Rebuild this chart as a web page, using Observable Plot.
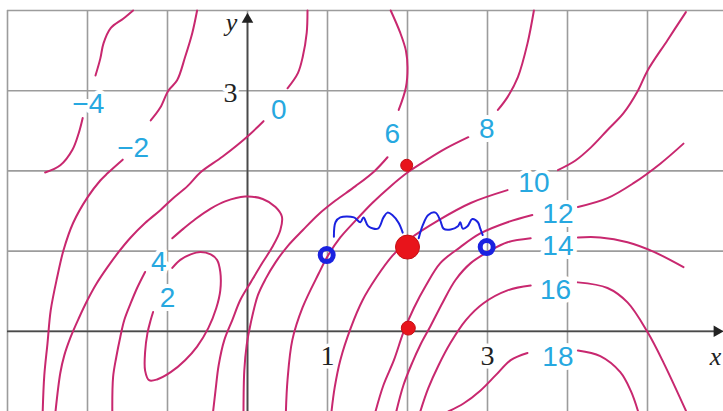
<!DOCTYPE html>
<html>
<head>
<meta charset="utf-8">
<script src="https://cdn.jsdelivr.net/npm/d3@7"></script>
<script src="https://cdn.jsdelivr.net/npm/@observablehq/plot@0.6"></script>
<style>
  html, body { margin: 0; padding: 0; background: #ffffff; }
  #chart svg { display: block; background: #ffffff; }
</style>
</head>
<body>
<div id="chart"></div>
<script>
// ---- contour segments (x, y in data units) ----
const cNeg4a = [[-1.43,4.00],[-1.55,3.90],[-1.71,3.78],[-1.80,3.59],[-1.84,3.40],[-1.90,3.19]];
const cNeg4b = [[-2.06,2.66],[-2.11,2.47],[-2.19,2.26],[-2.34,2.07],[-2.53,1.98]];
const cNeg2a = [[-0.63,4.00],[-0.69,3.72],[-0.78,3.42],[-0.88,3.13],[-0.99,3.00],[-1.09,2.79],[-1.21,2.63]];
const cNeg2b = [[-1.56,2.14],[-1.75,1.97],[-1.84,1.88],[-2.00,1.67],[-2.18,1.35],[-2.30,1.01],[-2.38,0.67],[-2.46,0.26],[-2.50,-0.15],[-2.54,-0.55],[-2.56,-1.00]];
const c0a = [[0.75,4.00],[0.74,3.72],[0.69,3.42],[0.63,3.22],[0.50,3.03]];
const c0b = [[0.20,2.62],[0.00,2.43],[-0.31,2.18],[-0.59,1.98],[-0.75,1.81],[-0.94,1.65],[-1.09,1.51],[-1.28,1.35],[-1.46,1.17],[-1.61,0.99],[-1.75,0.80],[-1.89,0.59],[-2.00,0.39],[-2.11,0.16],[-2.21,-0.07],[-2.29,-0.30],[-2.34,-0.52],[-2.40,-1.00]];
const c2 = [[-0.94,0.79],[-0.84,0.89],[-0.71,0.96],[-0.59,0.99],[-0.46,0.96],[-0.38,0.89],[-0.34,0.74],[-0.34,0.51],[-0.39,0.29],[-0.49,0.04],[-0.63,-0.19],[-0.78,-0.36],[-0.96,-0.51],[-1.13,-0.60],[-1.23,-0.61],[-1.28,-0.49],[-1.28,-0.26],[-1.25,-0.02],[-1.21,0.14],[-1.18,0.24]];
const c4a = [[-0.94,1.16],[-0.80,1.28],[-0.65,1.40],[-0.46,1.53],[-0.28,1.62],[-0.03,1.68],[0.19,1.65],[0.35,1.55],[0.43,1.43],[0.41,1.26],[0.31,1.05],[0.19,0.86],[0.04,0.61],[-0.09,0.39],[-0.19,0.14],[-0.29,-0.11],[-0.36,-0.42],[-0.40,-0.74],[-0.43,-1.00]];
const c4b = [[-1.28,0.74],[-1.38,0.54],[-1.46,0.35],[-1.54,0.14],[-1.59,-0.07],[-1.64,-0.32],[-1.68,-0.57],[-1.69,-1.00]];
const c6a = [[1.79,4.00],[1.91,3.72],[1.98,3.50],[2.00,3.29],[1.98,3.04],[1.89,2.76]];
const c6b = [[1.75,2.17],[1.59,2.00],[1.35,1.81],[1.10,1.63],[0.89,1.46],[0.69,1.26],[0.50,1.06],[0.35,0.86],[0.23,0.66],[0.13,0.45],[0.04,0.10],[-0.01,-0.17],[-0.04,-0.49],[-0.05,-1.00]];
const c8a = [[3.58,4.00],[3.50,3.59],[3.38,3.17],[3.25,2.92],[3.13,2.76]];
const c8b = [[2.76,2.42],[2.48,2.28],[2.23,2.13],[2.00,1.98],[1.79,1.81],[1.56,1.60],[1.35,1.38],[1.16,1.17],[1.01,0.95],[0.89,0.72],[0.69,0.30],[0.56,-0.11],[0.50,-0.61],[0.48,-1.00]];
const c10a = [[3.88,2.01],[4.10,2.13],[4.29,2.29],[4.50,2.51],[4.70,2.72],[4.88,3.00],[5.00,3.25],[5.25,3.63],[5.48,3.98]];
const c10b = [[3.25,1.76],[2.79,1.60],[2.38,1.38],[2.04,1.16],[1.81,0.94],[1.61,0.67],[1.44,0.39],[1.29,0.04],[1.16,-0.36],[1.09,-0.70],[1.05,-1.00]];
const c12a = [[4.13,1.55],[4.50,1.66],[4.83,1.85],[5.16,2.09],[5.45,2.34]];
const c12b = [[3.56,1.45],[3.25,1.36],[2.91,1.22],[2.66,1.05],[2.41,0.85],[2.23,0.57],[2.08,0.29],[1.95,-0.01],[1.83,-0.36],[1.70,-0.67],[1.60,-1.00]];
const c14a = [[4.13,1.17],[4.41,1.17],[4.75,1.11],[5.08,0.99],[5.45,0.80]];
const c14b = [[3.54,1.16],[3.25,1.11],[3.04,1.01],[2.79,0.85],[2.60,0.64],[2.44,0.36],[2.29,0.07],[2.16,-0.17],[2.06,-0.39],[1.95,-0.67],[1.86,-1.00]];
const c16a = [[4.13,0.61],[4.50,0.54],[4.75,0.36],[5.00,-0.01],[5.20,-0.39],[5.48,-0.99]];
const c16b = [[3.54,0.57],[3.25,0.51],[2.95,0.35],[2.73,0.14],[2.54,-0.14],[2.39,-0.42],[2.26,-0.71],[2.16,-1.00]];
const c18a = [[4.13,-0.24],[4.41,-0.31],[4.66,-0.51],[4.79,-0.74],[4.88,-0.99]];
const c18b = [[3.50,-0.27],[3.29,-0.36],[3.10,-0.55],[2.91,-0.74],[2.70,-0.90],[2.51,-1.00]];

// ---- contour labels ----
const labelText = ["\u22124","\u22122","0","2","4","6","8","10","12","14","16","18"];
const labelX = [-1.99,-1.43,0.39,-1.00,-1.11,1.81,2.99,3.58,3.88,3.88,3.85,3.88];
const labelY = [2.83,2.29,2.76,0.42,0.86,2.46,2.52,1.85,1.46,1.06,0.52,-0.32];

// ---- grid & ticks ----
const gridX = [-3,-2,-1,0,1,2,3,4,5];
const gridY = [0,1,2,3,4];
const xTickVals = [1,3];
const xTickText = ["1","3"];
const yTickVals = [3];
const yTickText = ["3"];

// ---- hand-drawn annotations ----
const redX = [1.99,2.00,2.01];
const redY = [2.07,1.05,0.04];
const redR = [6,12,7];
const blueX = [0.99,2.99];
const blueY = [0.95,1.05];
const squiggleL = [[1.08,1.18],[1.10,1.36],[1.16,1.42],[1.33,1.42],[1.41,1.36],[1.45,1.42],[1.51,1.31],[1.63,1.28],[1.70,1.42],[1.75,1.48],[1.81,1.45],[1.89,1.35],[1.94,1.23]];
const squiggleR = [[2.14,1.16],[2.19,1.32],[2.26,1.45],[2.35,1.48],[2.41,1.38],[2.45,1.28],[2.54,1.27],[2.63,1.31],[2.66,1.36],[2.69,1.28],[2.75,1.31],[2.81,1.40],[2.88,1.36],[2.91,1.28],[2.94,1.20]];

const segs = [cNeg4a,cNeg4b,cNeg2a,cNeg2b,c0a,c0b,c2,c4a,c4b,c6a,c6b,c8a,c8b,c10a,c10b,c12a,c12b,c14a,c14b,c16a,c16b,c18a,c18b];
const contourRows = segs.flatMap((s, i) => s.map(([x, y]) => ({x, y, seg: i})));
const labels = labelText.map((t, i) => ({t, x: labelX[i], y: labelY[i]}));
const squiggles = [squiggleL, squiggleR].flatMap((s, i) => s.map(([x, y]) => ({x, y, seg: i})));
const reds = redX.map((x, i) => ({x, y: redY[i], r: redR[i]}));
const blues = blueX.map((x, i) => ({x, y: blueY[i]}));

const XMAX = 5.95, YMIN = -1, YMAX = 4;
const contourColor = "#c8286f";
const cyan = "#27a8e0";
const gridColor = "#9c9c9c";
const axisColor = "#4a4a4a";

const chart = Plot.plot({
  width: 723,
  height: 411,
  marginLeft: 7,
  marginRight: 0,
  marginTop: 10,
  marginBottom: 0,
  x: {domain: [-3, XMAX], axis: null},
  y: {domain: [YMIN, YMAX], axis: null},
  r: {type: "identity"},
  style: {background: "#ffffff", overflow: "visible"},
  marks: [
    Plot.ruleX(gridX, {x: d => d, y1: YMIN, y2: YMAX, stroke: gridColor, strokeWidth: 1.6}),
    Plot.ruleY(gridY, {y: d => d, x1: -3, x2: XMAX, stroke: gridColor, strokeWidth: 1.6}),
    // axes
    Plot.ruleY([0], {x1: -3, x2: 5.85, stroke: axisColor, strokeWidth: 1.8}),
    Plot.ruleX([0], {y1: YMIN, y2: 3.85, stroke: axisColor, strokeWidth: 1.8}),
    Plot.dot([{x: 0, y: 3.97}], {x: "x", y: "y", symbol: "triangle", r: 4.3, fill: "#222", stroke: "none", dy: 6.5}),
    Plot.dot([{x: XMAX, y: 0}], {x: "x", y: "y", symbol: "triangle", r: 4.3, fill: "#222", stroke: "none", rotate: 90, dx: -6.5}),
    // contours
    Plot.line(contourRows, {x: "x", y: "y", z: "seg", stroke: contourColor, strokeWidth: 2, curve: "catmull-rom"}),
    // contour labels
    Plot.text(labels, {x: "x", y: "y", text: "t", fill: cyan, stroke: "white", strokeWidth: 8, fontSize: 28, fontFamily: "Liberation Sans, Arial, sans-serif", textAnchor: "middle", lineAnchor: "middle"}),
    // tick labels
    Plot.text(xTickVals, {x: d => d, y: 0, text: (d, i) => xTickText[i], dy: 25, fill: "#222", stroke: "white", strokeWidth: 7, fontSize: 28, fontFamily: "Liberation Serif, Times New Roman, serif", textAnchor: "middle", lineAnchor: "middle"}),
    Plot.text(yTickVals, {x: 0, y: d => d, text: (d, i) => yTickText[i], dx: -17, dy: 2, fill: "#222", stroke: "white", strokeWidth: 7, fontSize: 28, fontFamily: "Liberation Serif, Times New Roman, serif", textAnchor: "middle", lineAnchor: "middle"}),
    // axis names
    Plot.text(["y"], {x: 0, y: YMAX, text: d => d, dx: -16, dy: 12, fill: "#222", fontSize: 26, fontStyle: "italic", fontFamily: "Liberation Serif, Times New Roman, serif", textAnchor: "middle", lineAnchor: "middle"}),
    Plot.text(["x"], {x: XMAX, y: 0, text: d => d, dx: -8, dy: 25, fill: "#222", fontSize: 26, fontStyle: "italic", fontFamily: "Liberation Serif, Times New Roman, serif", textAnchor: "middle", lineAnchor: "middle"}),
    // annotations
    Plot.line(squiggles, {x: "x", y: "y", z: "seg", stroke: "#1a22e0", strokeWidth: 2, curve: "catmull-rom"}),
    Plot.dot(reds, {x: "x", y: "y", r: "r", fill: "#e8141b", stroke: "#c40f15", strokeWidth: 1}),
    Plot.dot(blues, {x: "x", y: "y", r: 6.5, fill: "none", stroke: "#1a22e0", strokeWidth: 5})
  ]
});
document.getElementById("chart").appendChild(chart);
</script>
</body>
</html>
